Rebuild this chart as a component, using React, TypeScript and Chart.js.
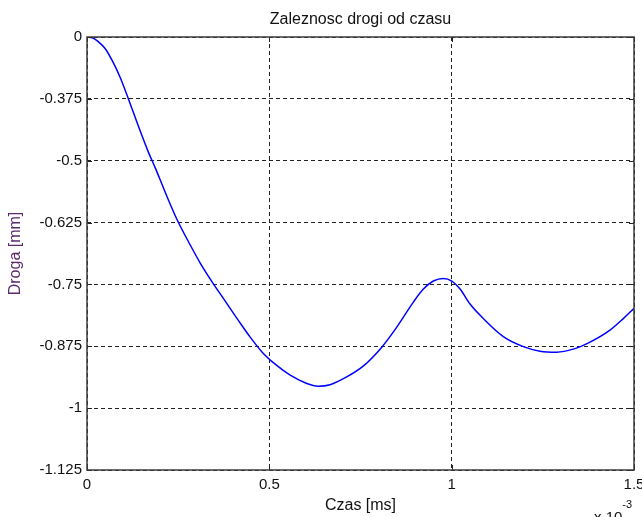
import React, { useEffect, useRef } from 'react';
import { Chart, registerables } from 'chart.js';

Chart.register(...registerables);

// Time (in units of 1e-3)
const timeValues = [
  0, 0.0145, 0.031, 0.0502, 0.0721, 0.0913, 0.1104, 0.1296, 0.1488, 0.168,
  0.1872, 0.2064, 0.2256, 0.2475, 0.2831, 0.3105, 0.3434, 0.379, 0.4146, 0.4475,
  0.4804, 0.516, 0.5572, 0.601, 0.6339, 0.6668, 0.7107, 0.7573, 0.8084, 0.8495,
  0.895, 0.9224, 0.9499, 0.9773, 1.0003, 1.023, 1.0504, 1.0869, 1.1417, 1.1965,
  1.2423, 1.288, 1.3335, 1.3793, 1.4341, 1.4706, 1.5,
];

// Distance [mm] in the linear scale of the axis
const distanceValues = [
  0, -0.0018, -0.0122, -0.0304, -0.0668, -0.1059, -0.1527, -0.2021, -0.2516, -0.2984,
  -0.34, -0.3843, -0.4285, -0.4754, -0.5404, -0.5872, -0.6367, -0.6861, -0.7356, -0.7798,
  -0.8188, -0.8501, -0.8787, -0.8995, -0.9072, -0.9033, -0.8839, -0.8552, -0.8058, -0.7538,
  -0.6887, -0.6549, -0.634, -0.6275, -0.634, -0.6549, -0.6939, -0.7316, -0.7785, -0.8045,
  -0.8162, -0.8188, -0.811, -0.7928, -0.7616, -0.7316, -0.7051,
];

const yTickLabels = ['0', '-0.375', '-0.5', '-0.625', '-0.75', '-0.875', '-1', '-1.125'];
const xTickValues = [0, 0.5, 1, 1.5];
const xTickLabels = ['0', '0.5', '1', '1.5'];

const Y_MIN = -1.125;
const Y_MAX = 0;
const X_MIN = 0;
const X_MAX = 1.5;

const TITLE = 'Zaleznosc drogi od czasu';
const X_TITLE = 'Czas [ms]';
const Y_TITLE = 'Droga [mm]';

const FONT = '"Liberation Sans", Arial, sans-serif';

const decorPlugin = {
  id: 'matlabDecor',
  afterDraw(chart: any) {
    const { ctx, chartArea } = chart;
    const { left, right, top, bottom } = chartArea;
    ctx.save();

    // inward tick marks
    ctx.strokeStyle = '#222';
    ctx.lineWidth = 1;
    ctx.setLineDash([]);
    const yScale = chart.scales.y;
    const xScale = chart.scales.x;
    const tl = 5;
    yScale.ticks.forEach((t: any) => {
      const y = Math.round(yScale.getPixelForValue(t.value)) + 0.5;
      ctx.beginPath();
      ctx.moveTo(left, y);
      ctx.lineTo(left + tl, y);
      ctx.moveTo(right, y);
      ctx.lineTo(right - tl, y);
      ctx.stroke();
    });
    xScale.ticks.forEach((t: any) => {
      const x = Math.round(xScale.getPixelForValue(t.value)) + 0.5;
      ctx.beginPath();
      ctx.moveTo(x, bottom);
      ctx.lineTo(x, bottom - tl);
      ctx.moveTo(x, top);
      ctx.lineTo(x, top + tl);
      ctx.stroke();
    });

    // box
    ctx.strokeStyle = '#3c3c3c';
    ctx.lineWidth = 1.5;
    ctx.strokeRect(left, top, right - left, bottom - top);

    // title
    const cx = (left + right) / 2;
    ctx.fillStyle = '#111';
    ctx.font = `16px ${FONT}`;
    ctx.textAlign = 'center';
    ctx.textBaseline = 'alphabetic';
    ctx.fillText(TITLE, cx, 24);

    // x title
    ctx.fillText(X_TITLE, cx, 510);

    // y title
    ctx.save();
    ctx.translate(20, (top + bottom) / 2);
    ctx.rotate(-Math.PI / 2);
    ctx.fillStyle = '#5a2a6c';
    ctx.textAlign = 'center';
    ctx.textBaseline = 'alphabetic';
    ctx.fillText(Y_TITLE, 0, 0);
    ctx.restore();

    // exponent
    ctx.fillStyle = '#111';
    ctx.textAlign = 'left';
    ctx.font = `15px ${FONT}`;
    const base = 'x 10';
    ctx.fillText(base, 594, 522);
    const w = ctx.measureText(base).width;
    ctx.font = `11px ${FONT}`;
    ctx.fillText('-3', 594 + w, 508);

    ctx.restore();
  },
};

export default function App() {
  const canvasRef = useRef<HTMLCanvasElement | null>(null);

  useEffect(() => {
    const canvas = canvasRef.current;
    if (!canvas) return;
    const yStep = (Y_MAX - Y_MIN) / (yTickLabels.length - 1);

    const chart = new Chart(canvas, {
      type: 'line',
      data: {
        datasets: [
          {
            data: timeValues.map((t, i) => ({ x: t, y: distanceValues[i] })),
            borderColor: '#0000ff',
            borderWidth: 1.5,
            pointRadius: 0,
            cubicInterpolationMode: 'monotone',
            fill: false,
          },
        ],
      },
      options: {
        animation: false,
        responsive: false,
        devicePixelRatio: 1,
        layout: { padding: { top: 37, right: 8, left: 0, bottom: 0 } },
        plugins: {
          legend: { display: false },
          tooltip: { enabled: false },
          title: { display: false },
        },
        scales: {
          x: {
            type: 'linear',
            min: X_MIN,
            max: X_MAX,
            afterFit: (scale: any) => {
              scale.height = 47;
              scale.paddingLeft = 0;
              scale.paddingRight = 0;
            },
            afterBuildTicks: (scale: any) => {
              scale.ticks = xTickValues.map((v) => ({ value: v }));
            },
            ticks: {
              padding: 6,
              color: '#111',
              font: { family: FONT, size: 15 },
              maxRotation: 0,
              callback: (value: any) => {
                const idx = xTickValues.findIndex((v) => Math.abs(v - Number(value)) < 1e-9);
                return idx >= 0 ? xTickLabels[idx] : '';
              },
            },
            grid: {
              color: '#222',
              lineWidth: 1,
              drawTicks: false,
            },
            border: { display: false, dash: [4, 3] },
          },
          y: {
            type: 'linear',
            min: Y_MIN,
            max: Y_MAX,
            afterFit: (scale: any) => {
              scale.width = 87;
              scale.paddingTop = 0;
              scale.paddingBottom = 0;
            },
            afterBuildTicks: (scale: any) => {
              scale.ticks = yTickLabels.map((_, i) => ({ value: Y_MIN + i * yStep }));
            },
            ticks: {
              padding: 5,
              color: '#111',
              font: { family: FONT, size: 15 },
              callback: (value: any) => {
                const idx = Math.round((Y_MAX - Number(value)) / yStep);
                return yTickLabels[idx] ?? '';
              },
            },
            grid: {
              color: '#222',
              lineWidth: 1,
              drawTicks: false,
            },
            border: { display: false, dash: [4, 3] },
          },
        },
      },
      plugins: [decorPlugin],
    });

    return () => {
      chart.destroy();
    };
  }, []);

  return (
    <div style={{ position: 'absolute', left: 0, top: 0, width: 642, height: 517, background: '#fff' }}>
      <canvas ref={canvasRef} width={642} height={517} style={{ display: 'block' }} />
    </div>
  );
}
